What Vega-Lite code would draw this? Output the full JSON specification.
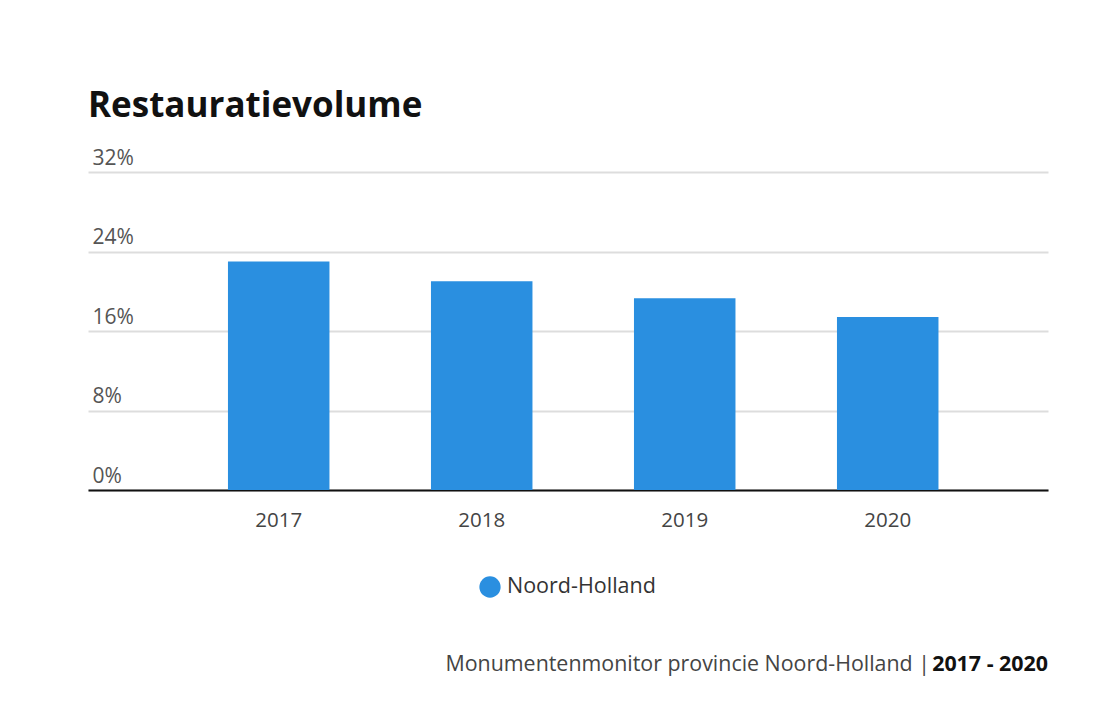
{
  "$schema": "https://vega.github.io/schema/vega-lite/v6.json",
  "background": "white",
  "padding": {"left": 88, "top": 89, "right": 20, "bottom": 10},
  "config": {"view": {"stroke": null}, "font": "Open Sans"},
  "title": {"text": "Restauratievolume", "anchor": "start", "fontSize": 35, "fontWeight": "bold", "color": "#111111", "font": "Open Sans", "offset": 23},
  "spacing": 56,
  "resolve": {"legend": {"color": "independent"}},
  "vconcat": [
    {
      "width": 960,
      "height": 318,
      "data": {"values": [
        {"year": "2017", "value": 23.0, "region": "Noord-Holland"},
        {"year": "2018", "value": 21.0, "region": "Noord-Holland"},
        {"year": "2019", "value": 19.3, "region": "Noord-Holland"},
        {"year": "2020", "value": 17.4, "region": "Noord-Holland"}
      ]},
      "mark": {"type": "bar"},
      "encoding": {
        "x": {
          "field": "year", "type": "ordinal",
          "scale": {"paddingInner": 0.5, "paddingOuter": 0.6145, "align": 0.561},
          "axis": {"title": null, "labelAngle": 0, "ticks": false, "domainColor": "#111111", "domainWidth": 2, "labelFontSize": 20.5, "labelColor": "#444444", "labelPadding": 20, "labelFont": "Open Sans"}
        },
        "y": {
          "field": "value", "type": "quantitative",
          "scale": {"domain": [0, 32], "nice": false},
          "axis": {"title": null, "values": [0, 8, 16, 24, 32], "labelExpr": "datum.value + '%'", "domain": false, "ticks": false, "gridColor": "#dddddd", "gridWidth": 2, "labelAlign": "left", "labelBaseline": "bottom", "labelPadding": -4, "labelOffset": -4, "labelFontSize": 21, "labelColor": "#555555", "labelFont": "Open Sans"}
        },
        "color": {
          "field": "region", "type": "nominal",
          "scale": {"range": ["#2a8fe0"]},
          "legend": {"orient": "none", "legendX": 391, "legendY": 404, "title": null, "symbolType": "circle", "symbolSize": 452, "symbolStrokeWidth": 0, "labelFontSize": 21.5, "labelColor": "#333333", "labelFont": "Open Sans", "labelOffset": 6}
        }
      }
    },
    {
      "width": 960,
      "height": 20,
      "layer": [
        {
          "data": {"values": [{"t": "Monumentenmonitor provincie Noord-Holland |"}]},
          "mark": {"type": "text", "align": "right", "baseline": "middle", "fontSize": 21.4, "color": "#444444", "dx": -118, "font": "Open Sans"},
          "encoding": {"x": {"value": "width"}, "y": {"value": 10}, "text": {"field": "t"}}
        },
        {
          "data": {"values": [{"t": "2017 - 2020"}]},
          "mark": {"type": "text", "align": "right", "baseline": "middle", "fontSize": 21.4, "fontWeight": "bold", "color": "#111111", "font": "Open Sans"},
          "encoding": {"x": {"value": "width"}, "y": {"value": 10}, "text": {"field": "t"}}
        }
      ]
    }
  ]
}
